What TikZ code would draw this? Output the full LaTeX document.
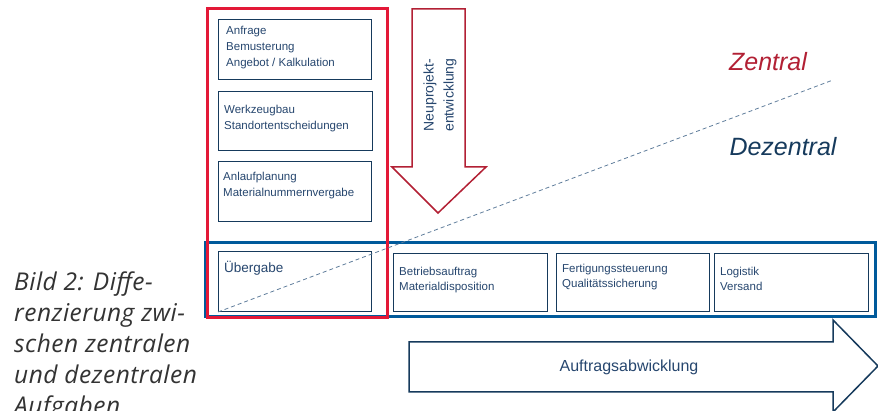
\documentclass[tikz,border=0pt]{standalone}
\usepackage{fontspec}
\setmainfont{Liberation Sans}
\newfontfamily\captionfont[LetterSpace=2]{Open Sans}
\usetikzlibrary{positioning, calc}
\definecolor{frame_red}{RGB}{227,24,55}
\definecolor{arrow_red}{RGB}{178,32,52}
\definecolor{frame_blue}{RGB}{0,90,155}
\definecolor{box_navy}{RGB}{22,58,92}
\definecolor{text_navy}{RGB}{38,70,110}
\definecolor{dash_grey}{RGB}{95,125,155}
\tikzset{
	task/.style={draw=box_navy, line width=1pt, anchor=north west, inner sep=0pt, minimum height=60pt},
	tasktext/.style={align=left, inner sep=0pt, text=text_navy, font=\fontsize{11.5}{16}\selectfont},
	scope label/.style={font=\fontsize{25}{25}\selectfont\itshape},
}

\begin{document}
\begin{tikzpicture}[x=1pt,y=-1pt,line join=miter]
		\useasboundingbox (0,0) rectangle (878,411);
		% caption
		\node[anchor=north west, align=left, inner sep=0pt, text=black!80,
			font=\captionfont\itshape\fontsize{24.5}{31}\selectfont] (caption) at (14,272)
			{Bild 2: Diffe-\\renzierung zwi-\\schen zentralen\\und dezentralen\\Aufgaben};
		% frames
		\draw[frame_blue, line width=3pt] (205,243) rectangle (875,317);
		\draw[frame_red, line width=3pt] (207,9) rectangle (387,318);
		% central tasks
		\node[task, minimum width=153pt] (anfrage) at (218,19) {};
		\node[task, minimum width=154pt, minimum height=59pt] (werkzeug) at (218,91) {};
		\node[task, minimum width=153pt] (anlauf) at (218,161) {};
		\node[task, minimum width=153pt] (uebergabe) at (218,251) {};
		\node[tasktext, below right=7pt and 8pt of anfrage.north west] (t_anfrage)
			{Anfrage\\Bemusterung\\Angebot / Kalkulation};
		\node[tasktext, below right=14pt and 6pt of werkzeug.north west] (t_werkzeug)
			{Werkzeugbau\\Standortentscheidungen};
		\node[tasktext, below right=11pt and 5pt of anlauf.north west] (t_anlauf)
			{Anlaufplanung\\Materialnummernvergabe};
		\node[tasktext, font=\fontsize{13.5}{15}\selectfont, below right=10pt and 6pt of uebergabe.north west] (t_uebergabe)
			{Übergabe};
		% decentral tasks
		\node[task, minimum width=154pt, minimum height=58pt] (betrieb) at (393,253) {};
		\node[task, minimum width=153pt, minimum height=58pt] (fertigung) at (556,253) {};
		\node[task, minimum width=154pt, minimum height=58pt] (logistik) at (714,253) {};
		\node[tasktext, font=\fontsize{11.5}{15}\selectfont, below right=14pt and 6pt of betrieb.north west] (t_betrieb)
			{Betriebsauftrag\\Materialdisposition};
		\node[tasktext, font=\fontsize{11.5}{15}\selectfont, below right=11pt and 6pt of fertigung.north west] (t_fertigung)
			{Fertigungssteuerung\\Qualitätssicherung};
		\node[tasktext, font=\fontsize{11.5}{15}\selectfont, below right=14pt and 6pt of logistik.north west] (t_logistik)
			{Logistik\\Versand};
		% border between the two
		\coordinate (border_end) at (833,80);
		\draw[dash_grey, dash pattern=on 4pt off 3pt, line width=0.8pt] (uebergabe.south west) -- (border_end);
		\node[scope label, text=arrow_red] (zentral) at (768,62) {Zentral};
		\node[scope label, text=box_navy] (dezentral) at (783,147) {Dezentral};
		% process arrows
		\draw[arrow_red, line width=1.5pt] (412,9) -- (465,9) -- (465,167) -- (486,167)
			-- (438,213) -- (392,167) -- (412,167) -- cycle;
		\node[tasktext, align=center, rotate=90, font=\fontsize{14}{20}\selectfont] (neuprojekt) at (440,95) {Neuprojekt-\\entwicklung};
		\draw[box_navy, line width=1.5pt] (409,342) -- (833,342) -- (833,320) -- (878,366)
			-- (833,412) -- (833,392) -- (409,392) -- cycle;
		\node[tasktext, font=\fontsize{16}{18}\selectfont] (auftrag) at (629,367) {Auftragsabwicklung};
	\end{tikzpicture}
\end{document}
